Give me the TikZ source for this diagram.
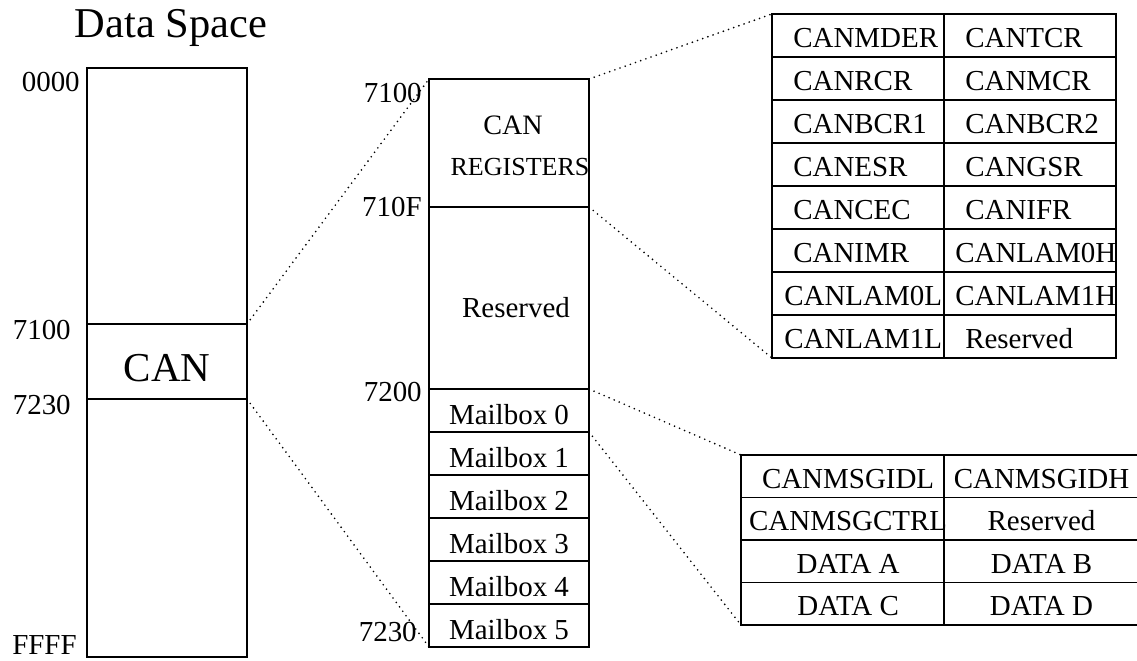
\documentclass[tikz,border=0pt]{standalone}
\usepackage{fontspec}
\setmainfont{Liberation Serif}
\usetikzlibrary{positioning,calc}

\begin{document}
\begin{tikzpicture}[x=0.025cm, y=-0.025cm,
    region/.style={rectangle, draw=black, line width=0.9pt, inner sep=0pt, outer sep=0pt, minimum width=4cm},
    mailbox/.style={region, minimum height=1.075cm, text height=20pt, text depth=0pt, font=\fontsize{20.6}{24}\selectfont},
    regcell/.style={rectangle, draw=black, line width=0.9pt, inner sep=0pt, outer sep=0pt, minimum width=4.3cm, minimum height=1.075cm},
    msgcell/.style={regcell, minimum height=1.0625cm},
    reg/.style={anchor=base west, inner sep=0pt, font=\fontsize{20.6}{24}\selectfont},
    addr/.style={anchor=east, inner sep=0pt, font=\fontsize{20.6}{24}\selectfont},
    txt/.style={inner sep=0pt, font=\fontsize{20.6}{24}\selectfont},
    zoomline/.style={draw=black, line width=1.3pt, line cap=round, dash pattern=on 0pt off 3.9pt}
]

    \useasboundingbox (0,0) rectangle (1137,660);

    % Title
    \node[anchor=base, inner sep=0pt, font=\fontsize{30.2}{34}\selectfont] (title) at (171,37) {Data Space};

    % Whole data space with the CAN part
    \node[region, minimum height=14.725cm] (space) at (167,362.5) {};
    \node[region, minimum height=1.875cm, text height=29pt, text depth=0pt, font=\fontsize{29.2}{34}\selectfont] (can) at (167,361.5) {CAN};

    \node[addr] (a0000) at (80,82) {0000};
    \node[addr] (a7100) at (71,330) {7100};
    \node[addr] (a7230) at (71,405) {7230};
    \node[addr] (affff) at (77,645) {FFFF};

    % CAN area in detail
    \node[region, minimum height=3.2cm] (regs) at (509,143) {};
    \node[txt, font=\fontsize{20}{24}\selectfont] (regsa) at (513,125) {CAN};
    \node[txt, font=\fontsize{18.5}{24}\selectfont] (regsb) at (520,167) {REGISTERS};
    \node[region, minimum height=4.55cm] (resv) at (509,298) {};
    \node[txt] (resvt) at (516,308) {Reserved};
    \foreach \i in {0,...,5}
        \node[mailbox] (mbox\i) at (509,{410.5+43*\i}) {Mailbox \i};

    \node[addr] (b7100) at (422,93) {7100};
    \node[addr] (b710f) at (422,207) {710F};
    \node[addr] (b7200) at (422,392) {7200};
    \node[addr] (b7230) at (417,632) {7230};

    % Register table
    \foreach \l/\r/\lx/\rx [count=\n from 0] in {CANMDER/CANTCR/21/21, CANRCR/CANMCR/21/21,
        CANBCR1/CANBCR2/21/21, CANESR/CANGSR/21/21, CANCEC/CANIFR/21/21,
        CANIMR/CANLAM0H/21/11, CANLAM0L/CANLAM1H/12/11, CANLAM1L/Reserved/12/21} {
        \node[regcell] (rega\n) at (858,{35.5+43*\n}) {};
        \node[regcell] (regb\n) at (1030,{35.5+43*\n}) {};
        \node[reg] (regta\n) at ([xshift=\lx*0.025cm, yshift=-0.31cm]rega\n.west) {\l};
        \node[reg] (regtb\n) at ([xshift=\rx*0.025cm, yshift=-0.31cm]regb\n.west) {\r};
    }

    % Mailbox table
    \foreach \l/\r [count=\n from 0] in {CANMSGIDL/CANMSGIDH, CANMSGCTRL/Reserved,
        DATA A/DATA B, DATA C/DATA D} {
        \node[msgcell, minimum width=5.075cm] (msga\n) at (842.5,{476.25+42.5*\n}) {};
        \node[msgcell, minimum width=4.875cm] (msgb\n) at (1041.5,{476.25+42.5*\n}) {};
        \node[txt, anchor=base] (msgta\n) at ([xshift=0.14cm, yshift=-0.3cm]msga\n.center) {\l};
        \node[txt, anchor=base] (msgtb\n) at ([yshift=-0.3cm]msgb\n.center) {\r};
    }

    % Zoom lines
    \draw[zoomline] (can.north east) -- (regs.north west);
    \draw[zoomline] (can.south east) -- (mbox5.south west);
    \draw[zoomline] (regs.north east) -- (rega0.north west);
    \draw[zoomline] (regs.south east) -- (rega7.south west);
    \draw[zoomline] (mbox0.north east) -- (msga0.north west);
    \draw[zoomline] (mbox0.south east) -- (msga3.south west);

\end{tikzpicture}
\end{document}
